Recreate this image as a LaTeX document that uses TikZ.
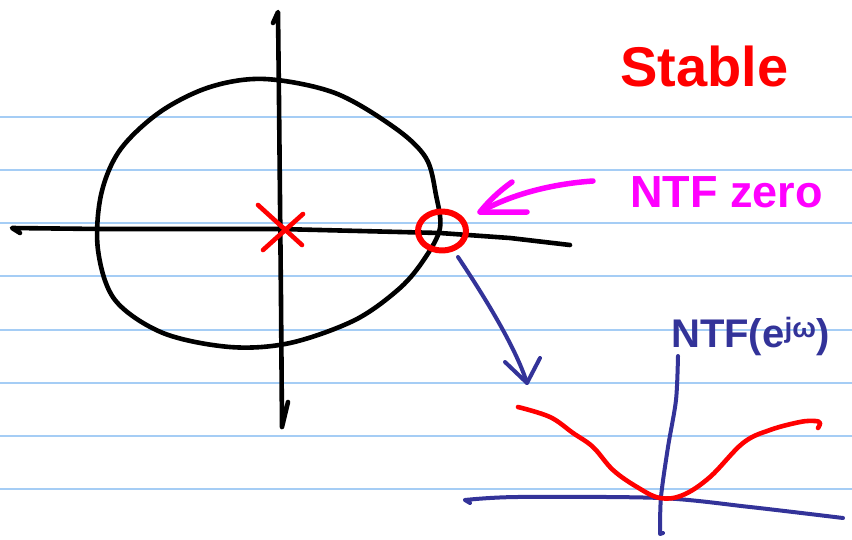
\documentclass[tikz,border=0pt]{standalone}
\usepackage{fontspec}
\setmainfont{Liberation Sans}
\usetikzlibrary{shapes.geometric}
\definecolor{ruleblue}{RGB}{165,205,245}
\definecolor{penred}{RGB}{255,0,0}
\definecolor{penmag}{RGB}{255,0,255}
\definecolor{penblue}{RGB}{51,51,153}
\begin{document}
\begin{tikzpicture}[x=1pt,y=-1pt,line cap=round,line join=round,
  ruleline/.style={draw=ruleblue,line width=2pt},
  blackpen/.style={draw=black,line width=4.6pt},
  redpen/.style={draw=penred,line width=4.6pt},
  magpen/.style={draw=penmag,line width=5.5pt},
  bluepen/.style={draw=penblue,line width=4pt},
  handtext/.style={inner sep=0pt,anchor=base west,font=\bfseries}]
\useasboundingbox (0,0) rectangle (852,539);
\fill[white] (0,0) rectangle (852,539);
% ruled paper
\foreach \y in {117,170,223,276,330,383,436,489}
  \draw[ruleline] (0,\y) -- (852,\y);
% z-plane axes
\draw[blackpen] (20,233) -- (12,228) -- (100,229) -- (280,229) -- (440,233) -- (510,238) -- (570,245);
\draw[blackpen] (273,23) -- (278,12) -- (279,100) -- (281,300) -- (282,427) -- (288,402);
% unit circle
\draw[blackpen] plot[smooth cycle,tension=0.55] coordinates {(265,79) (335,93) (395,128) (426,158) (436,195) (440,228) (425,258) (400,288) (355,320) (290,343) (230,347) (163,333) (115,300) (98,250) (101,195) (120,150) (160,112) (210,87)};
% pole at origin
\draw[redpen] (258,205) -- (302,245);
\draw[redpen] (303,214) -- (263,250);
% NTF zero marker
\node[ellipse,draw=penred,line width=6pt,minimum width=48pt,minimum height=39pt,inner sep=0pt] (zeromark) at (442,231) {};
% labels
\node[handtext,text=penred,font=\bfseries\fontsize{56}{60}\selectfont] (stable) at (620,86) {Stable};
\node[handtext,text=penmag,font=\bfseries\fontsize{45}{50}\selectfont] (ntfzero) at (630,207) {NTF zero};
\node[handtext,text=penblue,font=\bfseries\fontsize{40}{46}\selectfont] (ntfe) at (671,347) {NTF(e\textsuperscript{jω})};
% magenta arrow
\coordinate (magstart) at (593,181);
\coordinate (magtip) at (480,212);
\draw[magpen] (magstart) .. controls (550,184) and (510,195) .. (magtip);
\draw[magpen] (512,182) .. controls (498,192) and (488,202) .. (magtip) -- (527,212);
% blue arrow
\coordinate (bstart) at (458,257);
\coordinate (btip) at (527,383);
\draw[bluepen] (bstart) .. controls (480,290) and (515,345) .. (btip);
\draw[bluepen] (505,362) -- (btip) -- (540,358);
% frequency response axes
\draw[bluepen] (470,503) -- (465,500) plot[smooth] coordinates {(465,500) (517,497) (660,498) (750,507) (843,518)};
\draw[bluepen] plot[smooth] coordinates {(678,356) (676,400) (668,447) (661,497) (660,534)} -- (663,533);
% NTF magnitude
\draw[redpen] plot[smooth,tension=0.6] coordinates {(518,407) (550,417) (573,433) (593,447) (613,470) (637,487) (660,498) (683,495) (710,477) (743,443) (770,430) (800,422) (815,421) (820,423) (818,428)};
\end{tikzpicture}
\end{document}
